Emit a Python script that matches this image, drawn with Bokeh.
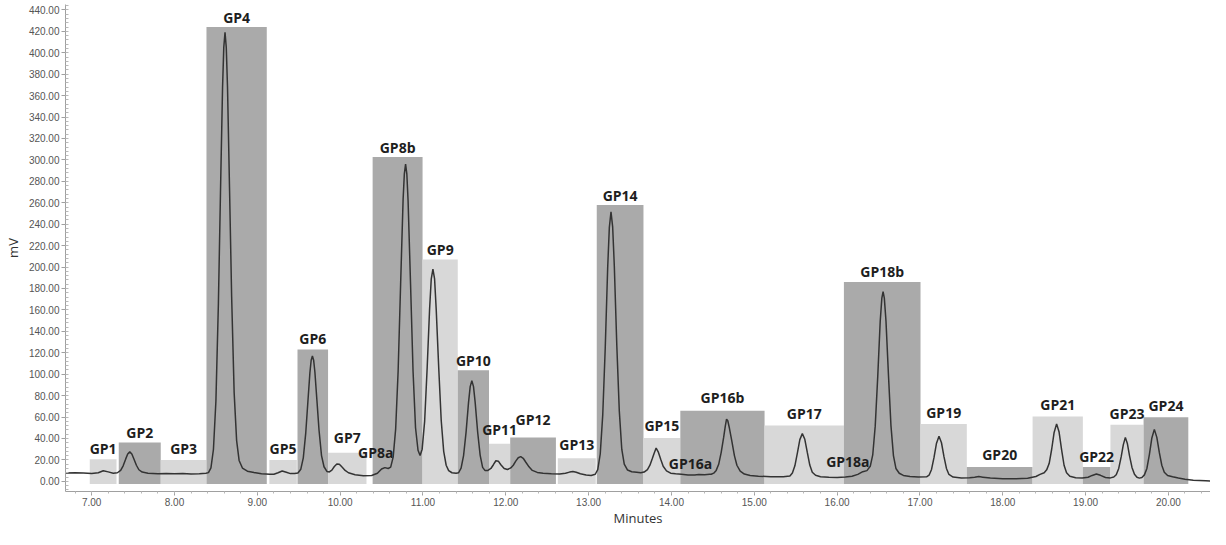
from bokeh.plotting import figure
from bokeh.models import Range1d, NumeralTickFormatter, SingleIntervalTicker, ColumnDataSource
from bokeh.core.properties import value
from bokeh.embed import file_html
from bokeh.resources import INLINE

# ---- chromatogram trace (minutes, mV) ----
trace_t = [6.68, 6.80, 6.90, 7.00, 7.08, 7.14, 7.20, 7.26, 7.31, 7.35, 7.38, 7.41, 7.435, 7.46, 7.485,
           7.51, 7.54, 7.57, 7.61, 7.68, 7.80, 7.90, 8.00, 8.10, 8.20, 8.30, 8.38, 8.41, 8.44, 8.47,
           8.50, 8.53, 8.555, 8.58, 8.595, 8.61, 8.625, 8.64, 8.665, 8.69, 8.72, 8.75, 8.78, 8.82, 8.88,
           8.96, 9.05, 9.15, 9.20, 9.25, 9.30, 9.35, 9.40, 9.45, 9.49, 9.525, 9.555, 9.585, 9.61, 9.635,
           9.65, 9.665, 9.68, 9.695, 9.72, 9.745, 9.775, 9.805, 9.84, 9.87, 9.90, 9.93, 9.96, 9.99, 10.02,
           10.06, 10.10, 10.18, 10.28, 10.38, 10.45, 10.50, 10.54, 10.58, 10.61, 10.64, 10.67, 10.70, 10.73, 10.76,
           10.775, 10.79, 10.805, 10.82, 10.85, 10.88, 10.91, 10.94, 10.965, 10.99, 11.02, 11.05, 11.08, 11.10, 11.12,
           11.14, 11.16, 11.19, 11.22, 11.25, 11.28, 11.31, 11.35, 11.40, 11.43, 11.46, 11.49, 11.52, 11.55, 11.57,
           11.59, 11.61, 11.63, 11.66, 11.69, 11.72, 11.75, 11.78, 11.82, 11.85, 11.88, 11.91, 11.94, 11.98, 12.02,
           12.06, 12.09, 12.12, 12.15, 12.18, 12.21, 12.24, 12.28, 12.32, 12.38, 12.45, 12.55, 12.65, 12.72, 12.77,
           12.81, 12.85, 12.90, 12.97, 13.03, 13.08, 13.11, 13.14, 13.17, 13.20, 13.23, 13.25, 13.27, 13.29, 13.31,
           13.34, 13.37, 13.40, 13.43, 13.47, 13.52, 13.58, 13.63, 13.67, 13.71, 13.74, 13.77, 13.79, 13.815, 13.84,
           13.87, 13.90, 13.94, 13.99, 14.05, 14.12, 14.20, 14.28, 14.33, 14.40, 14.46, 14.48, 14.51, 14.54, 14.57,
           14.60, 14.63, 14.65, 14.665, 14.68, 14.70, 14.73, 14.76, 14.79, 14.83, 14.88, 14.95, 15.05, 15.20, 15.35,
           15.43, 15.46, 15.49, 15.52, 15.55, 15.58, 15.61, 15.64, 15.67, 15.70, 15.74, 15.80, 15.90, 16.00, 16.10,
           16.18, 16.25, 16.31, 16.36, 16.40, 16.43, 16.46, 16.49, 16.52, 16.54, 16.555, 16.57, 16.59, 16.62, 16.65,
           16.68, 16.71, 16.75, 16.80, 16.88, 16.98, 17.08, 17.11, 17.14, 17.17, 17.20, 17.23, 17.26, 17.29, 17.32,
           17.35, 17.40, 17.50, 17.60, 17.66, 17.71, 17.76, 17.85, 18.00, 18.15, 18.30, 18.40, 18.45, 18.50, 18.53,
           18.56, 18.59, 18.62, 18.65, 18.68, 18.71, 18.74, 18.77, 18.81, 18.88, 18.96, 19.03, 19.08, 19.13, 19.18,
           19.24, 19.30, 19.34, 19.37, 19.40, 19.43, 19.455, 19.48, 19.505, 19.53, 19.56, 19.59, 19.62, 19.65, 19.68,
           19.71, 19.74, 19.77, 19.80, 19.83, 19.86, 19.89, 19.92, 19.95, 19.99, 20.05, 20.12, 20.20, 20.30, 20.45,
           20.60, 20.75, 20.86]
trace_mv = [7.8, 7.9, 7.8, 7.4, 8.0, 9.8, 8.8, 7.6, 8.0, 10.2, 14.5, 20.7, 25.5, 27.5, 25.5,
            20.8, 15.0, 10.8, 8.6, 7.6, 7.0, 7.3, 7.0, 7.4, 6.8, 7.0, 7.6, 8.1, 12.6, 29.7,
            75, 166, 269, 367, 405, 419, 405, 368, 271, 172, 83, 38, 19.5, 12.4, 9.5,
            8.2, 7.0, 6.5, 6.6, 8.0, 9.6, 8.4, 7.2, 7.2, 7.7, 11.3, 21.9, 45.5, 73.8, 101.6,
            113, 117, 113, 102, 75, 47.7, 24, 13.6, 9.2, 8.8, 10.5, 13.8, 16.2, 16.0, 13.5,
            10.2, 8.0, 6.2, 5.2, 5.5, 7.5, 11.5, 12.8, 12.0, 13.2, 22.6, 48.7, 103, 184, 263,
            287, 296, 287, 262, 184, 103, 50, 29, 24, 30, 56, 105, 161, 189, 198,
            189, 160, 106, 57, 28, 15, 10, 8, 7.5, 8.0, 12.4, 24, 45.7, 73.7, 88.4,
            94, 88.4, 73.7, 46, 24.5, 13, 10, 10.0, 12.0, 15.5, 19.2, 18.8, 15.5, 12.0, 11.0,
            12.5, 15, 18.8, 22, 23, 21.5, 18, 13.5, 10.2, 8.3, 7.5, 7.0, 6.8, 7.5, 8.6,
            9.2, 8.5, 7.0, 5.8, 5.5, 6.6, 10.9, 25.5, 61.5, 123.5, 199.5, 237, 251.5, 237.5, 201,
            127, 66, 30, 16, 10.5, 9.0, 8.5, 8.0, 8.6, 11.0, 15.0, 21.5, 26, 31, 27.5,
            20.5, 14.0, 9.8, 7.6, 7.0, 6.6, 6.0, 6.0, 6.4, 6.2, 6.5, 6.6, 7.6, 10.2, 15.9,
            26.8, 41.0, 51.5, 58, 56.5, 49.5, 37, 24, 15, 9.5, 6.8, 5.5, 4.8, 4.3, 4.2,
            5.0, 7.8, 14.5, 26.4, 38.9, 44.5, 39.2, 27, 15.2, 8.5, 5.6, 4.3, 3.8, 3.6, 4.0,
            4.8, 6.5, 9.0, 10.0, 14.0, 24.6, 51.5, 97, 149, 171, 177, 171, 149.5, 99, 52,
            24, 12, 7.5, 5.5, 4.5, 4.0, 4.2, 5.7, 11.1, 22.3, 35.6, 42, 36, 23, 12,
            6.4, 4.0, 3.2, 3.3, 3.8, 4.4, 3.9, 3.0, 2.5, 2.4, 2.8, 4.5, 6.5, 8.0, 10.7,
            16.6, 29.7, 45.6, 53.6, 46, 29.5, 15, 8, 4.8, 3.4, 3.0, 3.8, 5.5, 6.8, 5.6,
            3.6, 3.2, 4.0, 6.2, 12, 23, 34, 41, 35, 24, 13, 6.5, 3.8, 3.0, 3.6,
            6.0, 12, 25, 40.5, 48.5, 41, 27, 15, 8.5, 5.5, 4.2, 3.0, 2.0, 1.0, 0.5,
            0.0, -0.5, -0.8]

# ---- integration regions ----
region_names = ["GP1", "GP2", "GP3", "GP4", "GP5", "GP6", "GP7", "GP8b", "GP9", "GP10", "GP11", "GP12",
                "GP13", "GP14", "GP15", "GP16b", "GP17", "GP18b", "GP19", "GP20", "GP21", "GP22", "GP23", "GP24"]
region_start = [6.977, 7.327, 7.834, 8.386, 9.145, 9.485, 9.854, 10.392, 10.995, 11.42, 11.797, 12.053,
                12.628, 13.098, 13.662, 14.107, 15.124, 16.082, 17.007, 17.566, 18.36, 18.967, 19.30, 19.70]
region_end = [7.300, 7.834, 8.386, 9.114, 9.477, 9.854, 10.318, 10.995, 11.42, 11.797, 12.053, 12.605,
              13.086, 13.662, 14.107, 15.124, 16.082, 17.007, 17.566, 18.36, 18.967, 19.30, 19.70, 20.24]
region_top = [20.5, 36.3, 20.0, 424, 20.0, 123, 26.6, 302.7, 207, 103.7, 35, 41,
              21.6, 257.8, 40.5, 65.9, 52, 186, 53.5, 13.3, 60.6, 13.3, 52.7, 59.7]
region_shade = ["light", "dark", "light", "dark", "light", "dark", "light", "dark", "light", "dark", "light", "dark",
                "light", "dark", "light", "dark", "light", "dark", "light", "dark", "light", "dark", "light", "dark"]
region_label_mv = [30.6, 45.8, 30.6, 432.7, 30.6, 133, 41, 312, 216.5, 113, 48, 57.5,
                   34, 266.5, 52, 78, 63, 195.5, 64, 25, 72, 23, 63.4, 71.2]
region_floor = -2.5

# minor (shoulder) peak labels
minor_names = ["GP8a", "GP16a", "GP18a"]
minor_t = [10.43, 14.23, 16.13]
minor_mv = [27, 16.7, 18.8]

shade_colors = {"dark": "#aaaaaa", "light": "#d8d8d8"}

p = figure(width=1210, height=529, x_range=Range1d(6.684, 20.508), y_range=Range1d(-9.5, 445),
           output_backend="svg", toolbar_location=None,
           min_border_left=59, min_border_right=0, min_border_top=4, min_border_bottom=10)
p.outline_line_color = None
p.grid.visible = False
p.background_fill_color = "white"

src = ColumnDataSource(dict(
    left=region_start, right=region_end, top=region_top,
    bottom=[region_floor] * len(region_names),
    color=[shade_colors[s] for s in region_shade],
    name=region_names,
    cx=[(a + b) / 2 for a, b in zip(region_start, region_end)],
    ly=region_label_mv,
))
p.quad(left="left", right="right", top="top", bottom="bottom", fill_color="color",
       line_color=None, source=src)

p.line(trace_t, trace_mv, line_color="#333333", line_width=1.5)

p.text(x="cx", y="ly", text="name", source=src, text_font=value("Open Sans"),
       text_font_style="bold", text_font_size="14px", text_color="#1e1e1e",
       text_align="center", text_baseline="middle")
p.text(x=minor_t, y=minor_mv, text=minor_names, text_font=value("Open Sans"),
       text_font_style="bold", text_font_size="14px", text_color="#1e1e1e",
       text_align="center", text_baseline="middle")

p.xaxis.ticker = SingleIntervalTicker(interval=1, num_minor_ticks=5)
p.yaxis.ticker = SingleIntervalTicker(interval=20, num_minor_ticks=5)
p.xaxis.formatter = NumeralTickFormatter(format="0.00")
p.yaxis.formatter = NumeralTickFormatter(format="0.00")
p.xaxis.axis_label = "Minutes"
p.yaxis.axis_label = "mV"

for ax in (p.xaxis[0], p.yaxis[0]):
    ax.axis_line_color = "#a0a0a0"
    ax.major_tick_line_color = "#a0a0a0"
    ax.minor_tick_line_color = "#b8b8b8"
    ax.major_label_text_font = "Liberation Sans"
    ax.major_label_text_font_size = "10px"
    ax.major_label_text_color = "#555555"
    ax.axis_label_text_font = "Open Sans"
    ax.axis_label_text_font_style = "normal"
    ax.axis_label_text_font_size = "13px"
    ax.axis_label_text_color = "#333333"

p.xaxis.major_tick_out = 4
p.xaxis.major_tick_in = 0
p.xaxis.minor_tick_out = 2
p.xaxis.minor_tick_in = 0
p.xaxis.major_label_standoff = 2
p.xaxis.axis_label_standoff = 0

p.yaxis.major_tick_out = 4
p.yaxis.major_tick_in = 0
p.yaxis.minor_tick_out = 0
p.yaxis.minor_tick_in = 3
p.yaxis.major_label_standoff = 2
p.yaxis.axis_label_standoff = 4

open("out.html", "w").write(file_html(p, INLINE))
